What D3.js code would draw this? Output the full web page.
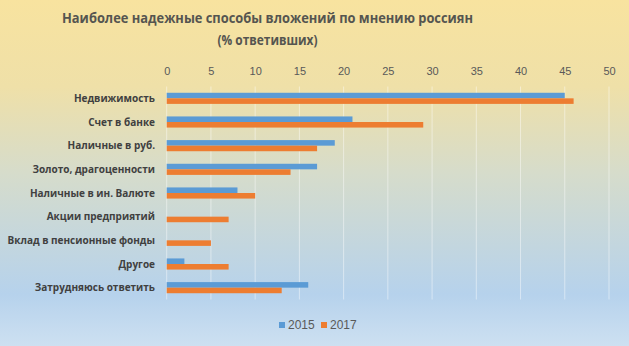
<!DOCTYPE html>
<html><head><meta charset="utf-8">
<script src="https://cdn.jsdelivr.net/npm/d3@7"></script>
<style>body{margin:0;}svg{display:block;}</style>
</head><body>
<script>
const categories = ["Недвижимость","Счет в банке","Наличные в руб.","Золото, драгоценности","Наличные в ин. Валюте","Акции предприятий","Вклад в пенсионные фонды","Другое","Затрудняюсь ответить"];
const seriesNames = ["2015","2017"];
const values2015 = [45,21,19,17,8,0,0,2,16];
const values2017 = [46,29,17,14,10,7,5,7,13];
const tickValues = [0,5,10,15,20,25,30,35,40,45,50];
const titleLines = ["Наиболее надежные способы вложений по мнению россиян","(% ответивших)"];

const W=629,H=346;
const colors={"2015":"#5b9bd5","2017":"#ed7d31"};
const svg=d3.select("body").append("svg").attr("width",W).attr("height",H);
const defs=svg.append("defs");
const bg=defs.append("linearGradient").attr("id","bg").attr("x1",0).attr("y1",0).attr("x2",0).attr("y2",1);
bg.append("stop").attr("offset","0%").attr("stop-color","#f8e39f");
bg.append("stop").attr("offset","25%").attr("stop-color","#efe0a8");
bg.append("stop").attr("offset","50%").attr("stop-color","#d6dccb");
bg.append("stop").attr("offset","85%").attr("stop-color","#b6d2ec");
bg.append("stop").attr("offset","100%").attr("stop-color","#cde0f1");
svg.append("rect").attr("width",W).attr("height",H).attr("fill","url(#bg)");

const m={left:166.7,right:609,top:86.5,bottom:299.5};
const x=d3.scaleLinear().domain([0,50]).range([m.left,m.right]);
const y=d3.scaleBand().domain(categories).range([m.top,m.bottom]).paddingInner(0.53).paddingOuter(0.265);
const ys=d3.scaleBand().domain(seriesNames).range([0,y.bandwidth()]);

// gridlines
svg.append("g").selectAll("line").data(tickValues).join("line")
  .attr("x1",d=>x(d)).attr("x2",d=>x(d)).attr("y1",m.top).attr("y2",m.bottom)
  .attr("stroke","#ffffff").attr("stroke-opacity",0.45).attr("stroke-width",1);

// axis top
const ax=svg.append("g").attr("transform",`translate(0,${m.top})`)
  .call(d3.axisTop(x).tickValues(tickValues).tickSize(0).tickPadding(12));
ax.select(".domain").remove();
ax.selectAll("text").attr("font-family","'Liberation Sans Narrow','Liberation Sans',sans-serif").attr("font-size",11).attr("fill","#595959");

// title
const titleLens=[411,100];
svg.append("g").selectAll("text").data(titleLines).join("text")
  .attr("x",267.5).attr("y",(d,i)=>23+i*22).attr("text-anchor","middle")
  .attr("font-family","'Open Sans',sans-serif").attr("font-weight","bold").attr("font-size",15)
  .attr("textLength",(d,i)=>titleLens[i]).attr("lengthAdjust","spacingAndGlyphs")
  .attr("fill","#555550").text(d=>d);

// category labels
svg.append("g").selectAll("text").data(categories).join("text")
  .attr("x",155).attr("y",d=>y(d)+y.bandwidth()/2).attr("dy","0.35em").attr("text-anchor","end")
  .attr("font-family","'Open Sans',sans-serif").attr("font-weight","bold").attr("font-size",10)
  .attr("fill","#404040").text(d=>d);

// bars
const data=[values2015,values2017];
seriesNames.forEach((s,si)=>{
  svg.append("g").selectAll("rect").data(categories).join("rect")
    .attr("x",x(0)).attr("y",d=>y(d)+ys(s))
    .attr("width",(d,i)=>x(data[si][i])-x(0)).attr("height",ys.bandwidth())
    .attr("fill",colors[s]);
});

// legend
const leg=svg.append("g");
const lx=[279,321];
seriesNames.forEach((s,i)=>{
  leg.append("rect").attr("x",lx[i]).attr("y",322).attr("width",6).attr("height",6).attr("fill",colors[s]);
  leg.append("text").attr("x",lx[i]+9).attr("y",325).attr("dy","0.35em")
    .attr("font-family","'Liberation Sans Narrow','Liberation Sans',sans-serif").attr("font-size",12).attr("fill","#595959").text(s);
});
</script>
</body></html>
